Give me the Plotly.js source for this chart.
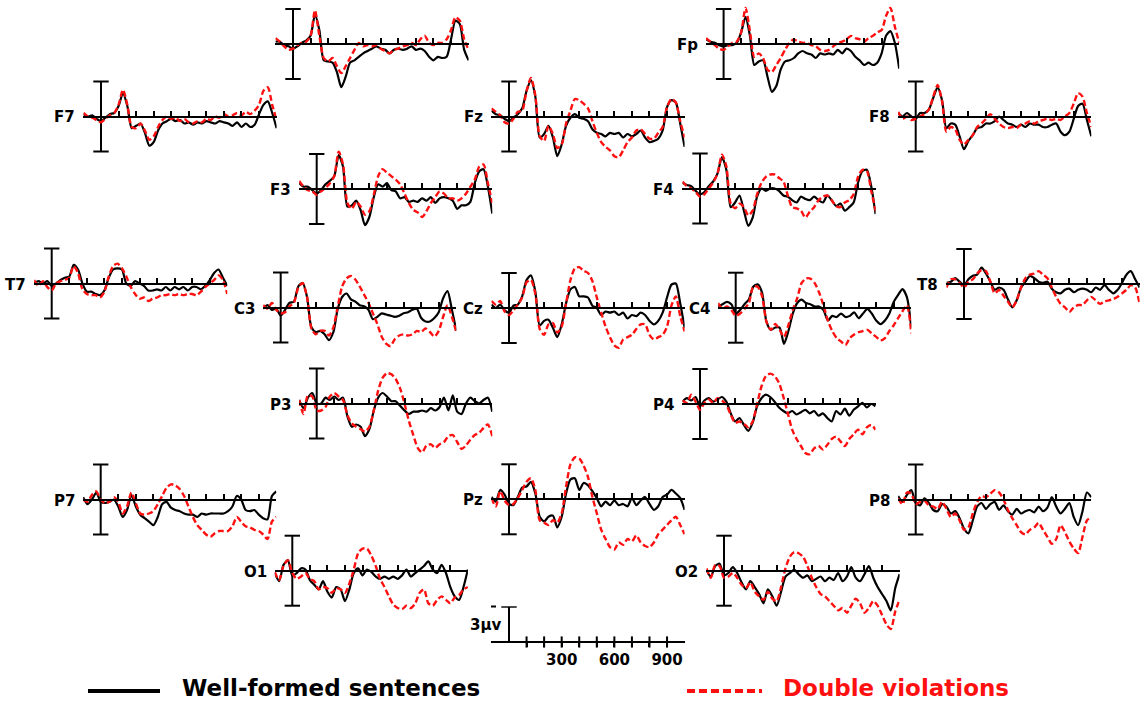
<!DOCTYPE html>
<html>
<head>
<meta charset="utf-8">
<script src="https://cdn.plot.ly/plotly-3.0.1.min.js"></script>
<style>
  html, body { margin: 0; padding: 0; background: #fff; }
  #chart { width: 1141px; height: 704px; }
</style>
</head>
<body>
<div id="chart"></div>
<script>
// Time points (ms) of the averaged waveforms
const timesMs = [-100,-75,-50,-25,0,25,50,75,100,125,150,175,200,225,250,275,300,325,350,375,400,
  425,450,475,500,525,550,575,600,625,650,675,700,725,750,775,800,825,850,875,900,925,950,975,1000];

// Grand-average amplitudes (µV), well-formed sentences
const wellFormed_Fp1 = [0.2,0.2,-0.1,-0.2,-0.4,-0.2,0.1,0.3,0.7,2.5,1.2,-1.4,-1.5,-1.6,-2.4,-3.7,-2.8,-1.6,-1.4,-1.1,-0.8,-0.6,-0.4,-0.2,-0.4,-0.5,-0.8,-0.5,-0.4,-0.5,-0.4,-0.2,-0.5,-0.4,-0.6,-1.1,-1.4,-1.1,-1.2,-1.1,0.4,2.0,1.7,-0.5,-1.4];
const wellFormed_Fp2 = [0.4,0.2,0.1,-0.1,-0.2,-0.1,-0.1,0.1,1.0,2.3,0.7,-1.8,-1.5,-1.4,-2.8,-4.1,-3.6,-2.2,-1.5,-1.4,-1.2,-0.8,-0.6,-0.8,-0.9,-1.2,-0.8,-0.9,-0.8,-0.9,-0.5,-0.8,-0.4,-0.6,-1.1,-1.4,-1.8,-1.6,-1.8,-1.6,-0.8,0.7,1.1,0.1,-2.1];
const wellFormed_F7 = [0.2,0.0,0.1,-0.2,-0.4,-0.1,0.2,0.3,0.9,2.0,0.9,-1.0,-0.8,-0.6,-1.4,-2.5,-2.2,-1.2,-0.6,-0.4,-0.2,-0.4,-0.3,-0.6,-0.5,-0.7,-0.5,-0.6,-0.4,-0.5,-0.6,-0.4,-0.5,-0.6,-0.8,-0.5,-0.9,-0.6,-0.9,-0.7,0.2,1.0,1.3,0.3,-1.0];
const wellFormed_Fz = [0.5,0.2,0.1,-0.2,-0.4,-0.1,0.2,0.7,2.2,3.1,1.7,-1.8,-1.5,-0.8,-1.8,-3.4,-2.4,-0.8,-0.1,0.2,-0.1,-0.2,-0.4,-1.1,-1.4,-1.5,-1.7,-1.4,-1.5,-1.4,-1.8,-1.5,-1.7,-1.5,-1.2,-1.8,-2.2,-2.1,-1.9,-1.2,0.8,1.4,1.2,-0.6,-2.6];
const wellFormed_F8 = [0.3,0.0,0.3,0.0,-0.2,0.3,0.3,0.6,1.6,2.5,1.4,-1.0,-0.6,-0.7,-1.7,-2.8,-2.1,-1.6,-1.0,-0.9,-0.6,-0.6,-0.4,0.0,-0.3,-0.6,-0.7,-0.9,-0.7,-0.9,-0.6,-0.7,-0.7,-0.9,-0.9,-0.7,-0.6,-1.3,-1.6,-1.3,-0.2,0.9,1.1,-0.3,-1.7];
const wellFormed_F3 = [0.5,0.2,0.2,-0.1,-0.4,-0.1,0.4,0.7,1.1,2.9,1.9,-1.5,-1.4,-1.0,-1.8,-3.1,-2.4,-0.7,0.4,0.2,0.5,-0.1,-0.2,-0.8,-0.7,-1.1,-1.0,-1.1,-0.8,-1.0,-0.7,-1.2,-0.8,-0.7,-0.8,-1.0,-1.7,-1.4,-1.4,-1.1,0.5,1.5,1.7,0.2,-2.1];
const wellFormed_F4 = [0.5,0.3,0.2,-0.2,-0.5,-0.3,0.2,0.6,1.3,2.7,1.6,-1.6,-1.2,-0.6,-1.9,-3.2,-2.5,-0.7,0.0,-0.2,0.0,0.0,-0.2,-0.6,-0.7,-1.0,-1.2,-0.7,-0.9,-1.0,-0.7,-1.0,-1.2,-0.6,-1.0,-1.5,-1.3,-1.9,-1.6,-1.2,0.5,1.5,1.6,0.2,-2.2];
const wellFormed_T7 = [0.0,0.2,0.0,0.2,-0.2,0.0,0.3,0.5,0.6,1.6,1.2,0.0,-0.7,-0.7,-0.9,-1.0,-0.6,0.5,1.2,1.3,1.2,0.0,-0.2,0.2,0.0,-0.2,-0.6,-0.6,-0.5,-0.6,-0.3,-0.6,-0.3,-0.5,-0.3,-0.6,-0.3,-0.3,-0.5,-0.2,0.3,0.9,1.2,0.5,-0.2];
const wellFormed_C3 = [-0.1,0.2,-0.2,-0.1,-0.7,-0.2,0.4,0.5,1.8,2.1,0.9,-1.7,-2.1,-2.0,-2.3,-2.8,-2.1,-0.1,0.9,1.2,0.7,0.5,0.2,0.1,-0.2,-1.0,-0.8,-0.5,-0.6,-0.7,-0.8,-0.7,-0.5,-0.4,-0.2,-0.1,-0.9,-1.2,-1.2,-0.9,-0.4,0.8,1.4,-0.2,-2.0];
const wellFormed_Cz = [0.3,0.0,0.3,-0.2,-0.4,0.2,0.3,1.0,2.4,2.8,1.4,-1.5,-1.1,-1.0,-1.7,-2.5,-1.4,0.4,1.6,1.8,1.0,1.0,0.9,0.2,0.0,-0.6,-0.3,-0.4,-0.3,-0.6,-0.4,-0.9,-0.6,-0.7,-0.4,-0.6,-1.1,-1.4,-1.1,-0.4,0.9,2.0,2.1,0.4,-1.7];
const wellFormed_C4 = [0.1,0.3,0.5,0.3,-0.5,-0.2,0.3,0.7,1.8,2.0,1.3,-1.2,-1.9,-1.7,-1.7,-3.1,-2.0,-0.5,0.4,0.7,0.4,0.3,0.1,0.1,-0.2,-1.1,-0.7,-0.8,-0.5,-0.8,-0.7,-0.4,-0.9,-0.5,-0.1,-0.5,-1.1,-1.4,-1.1,-0.5,0.5,1.1,1.6,0.9,-1.7];
const wellFormed_T8 = [0.1,0.2,0.5,0.2,-0.1,0.4,0.7,0.8,1.4,0.9,0.2,-0.5,-0.3,-0.5,-1.3,-2.0,-1.4,-0.3,0.2,0.7,0.5,0.2,0.1,0.2,-0.4,-0.7,-0.8,-0.5,-0.4,-0.7,-0.5,-0.4,-0.5,-0.7,-0.3,-0.5,-0.1,-0.5,-0.8,-0.5,0.1,0.8,1.1,0.4,-0.3];
const wellFormed_P3 = [0.3,-0.4,0.5,0.9,0.0,0.0,0.5,0.3,0.6,0.3,0.5,-1.1,-2.0,-1.8,-2.0,-2.8,-2.2,-0.6,0.5,0.9,0.6,0.2,0.2,-0.2,-0.6,-0.9,-0.7,-0.7,-0.6,-0.7,-0.4,-0.6,-0.3,0.5,-0.6,0.7,-0.7,-0.9,0.0,0.5,0.2,0.0,0.3,0.5,-0.7];
const wellFormed_P4 = [0.2,0.5,0.3,0.6,-0.2,0.3,0.5,0.2,0.4,0.6,0.2,-0.8,-1.5,-1.2,-1.8,-2.3,-1.6,-0.2,0.5,0.8,0.6,0.2,-0.3,-0.6,-0.8,-0.6,-0.9,-0.7,-0.5,-0.8,-0.6,-1.0,-0.8,-1.2,-1.5,-0.6,-0.9,-0.4,-1.0,-0.5,-0.2,0.1,-0.3,0.0,-0.2];
const wellFormed_P7 = [0.2,-0.4,0.0,0.6,-0.2,-0.3,-0.2,0.0,-0.6,-1.5,-0.9,0.4,-0.6,-1.3,-1.6,-1.9,-2.2,-1.5,-0.4,-0.2,-0.7,-0.9,-1.0,-1.2,-1.3,-1.3,-1.5,-1.2,-1.3,-1.2,-1.2,-1.2,-1.2,-1.0,-0.6,0.3,0.0,-0.9,-1.0,-0.9,-1.3,-1.6,-1.7,0.3,0.7];
const wellFormed_Pz = [0.2,-0.2,0.8,0.4,-0.4,-0.5,0.2,1.0,1.1,1.5,0.5,-1.5,-1.9,-1.5,-1.4,-2.4,-1.5,0.5,1.7,1.8,0.8,1.4,1.2,0.7,0.1,-0.6,-0.2,-0.5,-0.1,-0.5,-0.4,-0.6,0.1,-0.5,-0.1,0.2,-0.4,-0.9,-0.6,0.2,0.4,0.8,0.5,0.1,-0.9];
const wellFormed_P8 = [0.3,-0.2,0.4,0.8,-0.3,-0.5,0.1,-0.3,-0.9,-1.0,-0.4,-0.6,-1.2,-1.0,-1.6,-2.5,-2.9,-1.8,-0.6,-0.3,-0.8,-0.4,-0.2,-0.9,-0.5,-1.0,-1.3,-0.8,-1.2,-1.0,-0.9,-1.1,-0.6,-1.0,-0.7,0.2,-0.6,-1.2,-0.8,-0.3,-1.5,-2.2,-1.0,0.6,0.2];
const wellFormed_O1 = [-0.2,-0.9,0.5,0.9,-0.4,-0.2,0.2,0.1,-0.8,-1.2,-1.6,-0.9,-1.8,-2.3,-1.4,-1.6,-2.6,-1.6,-0.2,0.2,-0.4,0.1,-0.1,-0.5,-0.7,-0.5,-0.7,-0.5,-0.7,-0.4,0.1,-0.5,-0.2,0.1,0.4,0.8,0.1,-0.2,0.5,-0.2,-1.4,-2.2,-2.5,-1.4,0.1];
const wellFormed_O2 = [0.0,-0.5,0.4,0.6,-0.4,-0.2,0.3,-0.2,-1.0,-1.6,-0.9,-1.4,-2.0,-2.8,-1.6,-2.2,-3.0,-1.8,-0.5,-0.2,0.1,-0.3,-0.6,-0.4,-0.9,-0.7,-0.5,-0.9,-0.6,-0.8,-0.2,-0.9,-0.5,0.3,-0.6,-0.9,-0.3,0.4,-0.6,-1.4,-2.0,-2.6,-3.4,-1.5,-0.3];

// Grand-average amplitudes (µV), double violations
const doubleViolation_Fp1 = [0.5,0.2,-0.2,-0.5,-0.4,-0.1,0.1,0.2,0.7,2.9,0.7,-1.2,-1.5,-1.2,-1.9,-2.5,-1.9,-1.2,-0.5,0.1,-0.2,-0.1,-0.2,-0.1,-0.4,-0.6,-0.8,-0.5,-0.4,-0.2,-0.1,0.1,-0.1,0.4,0.7,0.1,-0.1,0.1,0.1,0.4,1.2,2.3,2.0,0.4,-0.5];
const doubleViolation_Fp2 = [0.5,0.2,-0.1,-0.4,-0.5,-0.2,0.1,0.2,1.0,3.1,1.1,-1.1,-0.8,-1.2,-2.2,-2.4,-1.8,-1.2,-0.5,0.1,0.4,0.2,0.1,0.1,-0.1,-0.2,-0.5,-0.6,-0.5,-0.2,0.1,0.2,0.4,0.7,0.5,0.4,0.2,0.5,0.7,1.0,1.2,2.4,3.1,1.5,0.1];
const doubleViolation_F7 = [0.3,0.0,-0.1,-0.3,-0.5,-0.2,0.1,0.3,1.0,2.3,1.0,-0.9,-1.0,-0.6,-1.2,-2.0,-1.7,-0.9,-0.3,0.0,-0.2,-0.1,-0.4,-0.2,-0.5,-0.6,-0.4,-0.5,-0.2,-0.3,0.0,-0.1,0.2,0.0,0.1,0.3,0.1,0.4,0.2,0.5,1.0,2.2,2.5,1.0,-0.3];
const doubleViolation_Fz = [0.7,0.4,0.1,-0.5,-0.6,-0.2,0.4,0.5,2.2,3.3,1.8,-1.7,-2.1,-0.8,-1.5,-2.7,-2.4,-0.6,0.5,1.5,1.4,1.1,0.7,-0.4,-1.4,-2.2,-2.6,-2.9,-3.4,-3.5,-2.9,-2.2,-1.8,-1.2,-1.1,-1.5,-1.9,-1.9,-1.4,-0.9,0.8,1.5,1.2,-0.4,-1.8];
const doubleViolation_F8 = [0.4,-0.2,0.0,-0.3,-0.2,0.0,0.2,0.6,1.7,2.7,1.3,-1.3,-0.9,-1.1,-2.0,-2.4,-2.0,-1.6,-0.9,-0.6,-0.2,0.2,-0.2,-0.6,-0.9,-1.0,-0.9,-1.0,-0.7,-0.6,-0.4,-0.6,-0.4,-0.3,-0.2,-0.3,-0.2,-0.3,0.0,0.3,1.1,2.0,1.7,0.3,-0.9];
const doubleViolation_F3 = [0.7,0.2,-0.1,-0.2,-0.5,-0.2,0.1,0.5,1.1,3.2,2.1,-1.2,-1.7,-1.1,-1.5,-2.2,-1.9,-0.5,1.1,1.7,1.4,1.1,0.8,0.4,-0.4,-1.2,-1.8,-2.0,-2.4,-1.9,-1.2,-0.7,-0.2,-0.4,-0.8,-0.8,-1.0,-0.8,-0.4,0.2,0.8,1.9,2.1,0.5,-1.2];
const doubleViolation_F4 = [0.6,0.2,0.0,-0.3,-0.7,-0.5,0.0,0.5,1.3,2.9,1.9,-1.3,-1.7,-1.3,-1.6,-2.3,-1.9,-0.5,0.5,1.0,1.2,1.2,0.9,0.6,-0.6,-1.6,-1.7,-1.9,-2.5,-2.0,-1.6,-1.0,-0.7,-0.6,-1.0,-1.5,-1.6,-1.2,-1.0,-0.5,1.0,1.6,1.5,-0.2,-1.9];
const doubleViolation_T7 = [0.3,-0.2,0.2,-0.3,-0.6,0.0,0.2,0.3,0.5,1.5,0.9,-0.5,-0.9,-1.0,-1.0,-1.2,-0.7,0.6,1.5,1.7,1.3,0.6,-0.3,-0.9,-1.3,-1.2,-1.5,-1.3,-1.2,-1.0,-1.0,-0.9,-1.0,-0.9,-1.0,-0.9,-0.9,-1.0,-0.7,-0.3,0.0,0.3,0.7,0.3,-0.9];
const doubleViolation_C3 = [0.2,-0.1,0.4,-0.2,-0.5,-0.4,0.1,0.4,1.7,2.1,0.9,-1.8,-2.3,-2.0,-2.0,-2.4,-1.7,0.1,1.8,2.5,2.7,2.4,1.8,1.1,0.4,-0.5,-1.4,-2.5,-3.1,-3.3,-2.7,-2.4,-2.3,-2.4,-2.3,-2.0,-2.1,-1.8,-2.1,-2.5,-2.0,-0.8,0.2,-0.8,-2.1];
const doubleViolation_Cz = [0.6,0.3,0.6,-0.3,-0.6,-0.2,0.3,0.9,2.2,2.4,1.2,-1.8,-2.3,-1.4,-1.3,-2.1,-1.6,0.4,2.4,3.4,3.5,3.2,3.0,2.3,0.9,-0.4,-1.6,-2.5,-3.2,-3.4,-2.7,-2.5,-2.3,-1.8,-1.4,-1.4,-2.3,-2.7,-2.5,-2.3,-1.6,0.2,1.0,-0.7,-2.0];
const doubleViolation_C4 = [0.4,-0.1,0.1,-0.2,-0.7,-0.5,-0.1,0.4,1.8,1.8,1.0,-1.2,-1.9,-1.4,-1.9,-2.5,-1.5,-0.2,0.8,2.1,2.5,2.5,2.1,1.3,0.2,-1.1,-2.0,-2.6,-2.9,-3.2,-2.6,-2.3,-2.1,-2.0,-1.9,-2.2,-2.5,-2.8,-2.6,-2.0,-1.5,-0.9,-0.3,0.2,-2.2];
const doubleViolation_T8 = [-0.3,0.4,0.4,0.1,-0.3,0.2,0.4,0.9,1.2,1.1,0.2,-0.8,-0.5,-1.0,-1.5,-2.0,-1.4,-0.3,0.5,0.8,0.9,1.1,0.8,0.5,-0.3,-1.1,-1.7,-2.0,-2.4,-2.0,-1.8,-1.8,-1.4,-1.1,-1.4,-1.7,-1.5,-1.4,-1.3,-1.1,-0.8,-0.5,-0.1,-0.3,-1.7];
const doubleViolation_P3 = [0.3,-0.9,0.7,0.6,-0.6,-0.6,-0.3,0.6,0.9,0.6,0.3,-1.0,-1.7,-2.0,-2.2,-2.4,-2.0,-0.6,1.1,2.2,2.6,2.5,2.1,1.3,0.0,-1.5,-2.7,-3.8,-4.2,-3.6,-3.5,-3.8,-3.5,-3.3,-2.8,-2.7,-3.3,-3.9,-3.6,-3.1,-2.7,-2.5,-2.1,-1.8,-2.8];
const doubleViolation_P4 = [0.3,0.1,0.8,0.2,-0.5,0.1,0.4,0.1,0.5,0.3,-0.1,-0.9,-1.6,-1.5,-1.7,-2.0,-1.5,0.0,1.5,2.4,2.6,2.4,1.8,0.6,-0.8,-2.2,-3.0,-3.6,-4.2,-4.3,-3.8,-3.6,-3.9,-3.5,-3.0,-2.8,-3.2,-3.6,-3.0,-2.6,-2.2,-2.6,-2.0,-1.8,-2.2];
const doubleViolation_P7 = [0.0,-0.2,0.4,0.7,0.0,-0.3,-0.2,0.2,-0.2,-1.2,-0.6,0.6,-0.3,-1.2,-1.3,-1.2,-1.0,-0.4,0.3,1.0,1.3,1.2,0.9,0.3,-0.6,-1.5,-2.2,-2.6,-3.0,-3.2,-2.9,-2.7,-2.7,-2.7,-2.3,-1.5,-1.9,-2.3,-2.4,-2.6,-2.7,-3.0,-3.4,-1.9,-1.5];
const doubleViolation_Pz = [0.1,-0.6,0.7,-0.1,-0.5,-0.4,0.1,0.8,1.5,1.8,0.8,-1.8,-2.0,-2.2,-1.8,-2.0,-1.2,1.1,3.0,3.6,3.5,2.9,1.9,0.2,-1.2,-2.6,-3.4,-4.1,-4.3,-3.7,-3.9,-3.4,-3.6,-3.1,-3.7,-4.0,-4.1,-3.7,-3.0,-2.6,-2.2,-1.8,-1.5,-2.2,-3.0];
const doubleViolation_P8 = [0.1,-0.4,0.6,0.5,-0.4,-0.2,-0.1,-0.5,-0.6,-0.8,-0.2,-0.8,-1.5,-1.2,-1.8,-2.6,-2.4,-1.2,-0.2,0.3,0.2,0.5,0.8,0.6,0.0,-0.9,-1.6,-2.2,-2.8,-3.0,-2.6,-2.4,-2.0,-2.6,-3.2,-3.8,-3.4,-2.2,-2.8,-3.6,-4.2,-4.6,-3.2,-1.8,-1.5];
const doubleViolation_O1 = [-0.1,-0.8,0.4,0.9,-0.2,-0.7,-0.5,-0.2,-0.7,-0.9,-1.6,-1.4,-1.5,-1.9,-1.5,-1.6,-1.9,-1.1,0.1,1.5,1.9,1.9,1.3,0.4,-0.7,-1.4,-2.2,-2.9,-3.2,-3.3,-3.0,-3.2,-2.8,-1.9,-1.6,-2.8,-3.0,-2.5,-2.2,-2.5,-2.8,-2.3,-2.1,-1.6,-1.4];
const doubleViolation_O2 = [0.2,-0.6,0.5,0.4,-0.6,-0.5,-0.2,-0.6,-1.2,-1.5,-1.0,-1.8,-2.2,-2.5,-1.8,-2.4,-2.6,-1.4,0.2,1.2,1.6,1.5,1.2,0.4,-0.6,-1.4,-2.0,-2.2,-2.6,-3.0,-3.4,-3.2,-3.6,-3.0,-2.4,-2.8,-3.6,-3.2,-2.6,-3.0,-3.8,-4.6,-5.0,-3.5,-2.5];

// Axis ticks (ms) and labels of the time scale
const timeTicksMs = [100,200,300,400,500,600,700,800,900];
const timeTickText = ['','','300','','','600','','','900'];
const scaleBarUv = 3;
const seriesNames = ['Well-formed sentences', 'Double violations'];

const wellFormed = {
  Fp1: wellFormed_Fp1, Fp2: wellFormed_Fp2, F7: wellFormed_F7, Fz: wellFormed_Fz, F8: wellFormed_F8,
  F3: wellFormed_F3, F4: wellFormed_F4, T7: wellFormed_T7, C3: wellFormed_C3, Cz: wellFormed_Cz,
  C4: wellFormed_C4, T8: wellFormed_T8, P3: wellFormed_P3, P4: wellFormed_P4, P7: wellFormed_P7,
  Pz: wellFormed_Pz, P8: wellFormed_P8, O1: wellFormed_O1, O2: wellFormed_O2
};
const doubleViolation = {
  Fp1: doubleViolation_Fp1, Fp2: doubleViolation_Fp2, F7: doubleViolation_F7, Fz: doubleViolation_Fz, F8: doubleViolation_F8,
  F3: doubleViolation_F3, F4: doubleViolation_F4, T7: doubleViolation_T7, C3: doubleViolation_C3, Cz: doubleViolation_Cz,
  C4: doubleViolation_C4, T8: doubleViolation_T8, P3: doubleViolation_P3, P4: doubleViolation_P4, P7: doubleViolation_P7,
  Pz: doubleViolation_Pz, P8: doubleViolation_P8, O1: doubleViolation_O1, O2: doubleViolation_O2
};

// Scalp layout: pixel column of the 0 ms point and pixel row of the 0 µV baseline
const panels = [
  { name: 'Fp1', label: '',   zeroX: 293.0, baseY: 44.0 },
  { name: 'Fp2', label: 'Fp', zeroX: 723.6, baseY: 44.0 },
  { name: 'F7',  label: 'F7', zeroX: 101.0, baseY: 116.5 },
  { name: 'Fz',  label: 'Fz', zeroX: 509.0, baseY: 116.5 },
  { name: 'F8',  label: 'F8', zeroX: 915.7, baseY: 116.5 },
  { name: 'F3',  label: 'F3', zeroX: 316.7, baseY: 189.0 },
  { name: 'F4',  label: 'F4', zeroX: 700.0, baseY: 188.5 },
  { name: 'T7',  label: 'T7', zeroX: 51.7,  baseY: 283.5 },
  { name: 'C3',  label: 'C3', zeroX: 280.7, baseY: 307.5 },
  { name: 'Cz',  label: 'Cz', zeroX: 509.0, baseY: 308.0 },
  { name: 'C4',  label: 'C4', zeroX: 735.7, baseY: 307.7 },
  { name: 'T8',  label: 'T8', zeroX: 964.0, baseY: 284.0 },
  { name: 'P3',  label: 'P3', zeroX: 316.7, baseY: 403.5 },
  { name: 'P4',  label: 'P4', zeroX: 700.0, baseY: 404.0 },
  { name: 'P7',  label: 'P7', zeroX: 100.7, baseY: 499.5 },
  { name: 'Pz',  label: 'Pz', zeroX: 509.0, baseY: 499.3 },
  { name: 'P8',  label: 'P8', zeroX: 915.7, baseY: 499.5 },
  { name: 'O1',  label: 'O1', zeroX: 292.3, baseY: 570.7 },
  { name: 'O2',  label: 'O2', zeroX: 724.0, baseY: 570.7 }
];
const scalePanel = { zeroX: 509.0, baseY: 642.0 };

const W = 1141, H = 704;
const PX_PER_MS = 0.1756;
const PX_PER_UV = 35 / 3;
const HALF_PX = 72;
const T_MIN = -100, T_MAX = 1000;
const FONT = 'DejaVu Sans, Verdana, sans-serif';
const RED = '#ff1010';

const traces = [];
const layout = {
  width: W, height: H,
  margin: { l: 0, r: 0, t: 0, b: 0 },
  paper_bgcolor: '#ffffff',
  plot_bgcolor: 'rgba(0,0,0,0)',
  showlegend: false,
  shapes: [],
  annotations: []
};

function addAxes(n, zeroX, baseY, withLabels) {
  const x0 = zeroX + T_MIN * PX_PER_MS;
  const x1 = zeroX + T_MAX * PX_PER_MS;
  const lowPx = Math.min(baseY + HALF_PX, H);
  const highPx = Math.max(baseY - HALF_PX, 0);
  layout['xaxis' + n] = {
    domain: [x0 / W, x1 / W],
    range: [T_MIN, T_MAX],
    anchor: 'free',
    position: (H - baseY) / H,
    showline: true, linecolor: '#000', linewidth: 2,
    showgrid: false, zeroline: false,
    ticks: withLabels ? 'outside' : 'inside',
    ticklen: withLabels ? 4 : 5, tickwidth: 2, tickcolor: '#000',
    tickmode: 'array', tickvals: timeTicksMs,
    ticktext: timeTickText,
    showticklabels: !!withLabels,
    tickfont: { family: FONT, size: 15, color: '#000', weight: 'bold' },
    fixedrange: true
  };
  layout['yaxis' + n] = {
    domain: [(H - lowPx) / H, (H - highPx) / H],
    range: [-(lowPx - baseY) / PX_PER_UV, (baseY - highPx) / PX_PER_UV],
    anchor: 'x' + n,
    visible: false, showgrid: false, zeroline: false,
    fixedrange: true
  };
}

panels.forEach((p, i) => {
  const n = i + 1;
  addAxes(n, p.zeroX, p.baseY, false);
  const ax = { xaxis: 'x' + n, yaxis: 'y' + n };
  // amplitude scale bar (±3 µV) at stimulus onset
  traces.push(Object.assign({
    x: [0, 0], y: [-scaleBarUv, scaleBarUv],
    mode: 'lines+markers',
    line: { color: '#000', width: 2 },
    marker: { symbol: 'line-ew', size: 11, color: '#000', line: { color: '#000', width: 2 } },
    hoverinfo: 'skip', cliponaxis: false
  }, ax));
  traces.push(Object.assign({
    name: seriesNames[0], x: timesMs, y: wellFormed[p.name],
    mode: 'lines', line: { color: '#000', width: 2.2, shape: 'spline', smoothing: 0.7 },
    hoverinfo: 'skip'
  }, ax));
  traces.push(Object.assign({
    name: seriesNames[1], x: timesMs, y: doubleViolation[p.name],
    mode: 'lines', line: { color: RED, width: 2.4, dash: '6px,3px', shape: 'spline', smoothing: 0.7 },
    hoverinfo: 'skip'
  }, ax));
  if (p.label) {
    layout.annotations.push({
      xref: 'paper', yref: 'paper',
      x: (p.zeroX + T_MIN * PX_PER_MS - 6) / W, y: (H - p.baseY - 1) / H,
      xanchor: 'right', yanchor: 'middle', showarrow: false,
      text: '<b>' + p.label + '</b>',
      font: { family: FONT, size: 15, color: '#000' }
    });
  }
});

// Time / amplitude calibration panel
const sn = panels.length + 1;
addAxes(sn, scalePanel.zeroX, scalePanel.baseY, true);
traces.push({
  xaxis: 'x' + sn, yaxis: 'y' + sn,
  x: [0, 0], y: [0, scaleBarUv],
  mode: 'lines+markers',
  line: { color: '#000', width: 2 },
  marker: { symbol: 'line-ew', size: [0, 11], color: '#000', line: { color: '#000', width: 2 } },
  hoverinfo: 'skip', cliponaxis: false
});
traces.push({
  xaxis: 'x' + sn, yaxis: 'y' + sn,
  x: timeTicksMs, y: timeTicksMs.map(() => 0),
  mode: 'markers',
  marker: { symbol: 'line-ns', size: 8, color: '#000', line: { color: '#000', width: 2 } },
  hoverinfo: 'skip', cliponaxis: false
});
layout.annotations.push({
  xref: 'paper', yref: 'paper',
  x: (scalePanel.zeroX - 6) / W, y: (H - 625) / H,
  xanchor: 'right', yanchor: 'middle', showarrow: false,
  text: '<b>3µv</b>', font: { family: FONT, size: 15, color: '#000' }
});
layout.shapes.push({
  type: 'line', xref: 'paper', yref: 'paper',
  x0: 491 / W, x1: 496 / W, y0: (H - 606.5) / H, y1: (H - 606.5) / H,
  line: { color: '#000', width: 2 }
});

// Legend
const legendRow = 691;
const legendTextRow = 688;
layout.shapes.push({
  type: 'line', xref: 'paper', yref: 'paper',
  x0: 88 / W, x1: 160 / W, y0: (H - legendRow) / H, y1: (H - legendRow) / H,
  line: { color: '#000', width: 4 }
});
layout.shapes.push({
  type: 'line', xref: 'paper', yref: 'paper',
  x0: 687 / W, x1: 762 / W, y0: (H - legendRow) / H, y1: (H - legendRow) / H,
  line: { color: RED, width: 4, dash: '8px,4px' }
});
layout.annotations.push({
  xref: 'paper', yref: 'paper', x: 181 / W, y: (H - legendTextRow) / H,
  xanchor: 'left', yanchor: 'middle', showarrow: false, borderpad: 0,
  text: '<b>' + seriesNames[0] + '</b>', font: { family: FONT, size: 23, color: '#000' }
});
layout.annotations.push({
  xref: 'paper', yref: 'paper', x: 782 / W, y: (H - legendTextRow) / H,
  xanchor: 'left', yanchor: 'middle', showarrow: false, borderpad: 0,
  text: '<b>' + seriesNames[1] + '</b>', font: { family: FONT, size: 23, color: RED }
});

Plotly.newPlot('chart', traces, layout, { staticPlot: true, displayModeBar: false });
</script>
</body>
</html>
